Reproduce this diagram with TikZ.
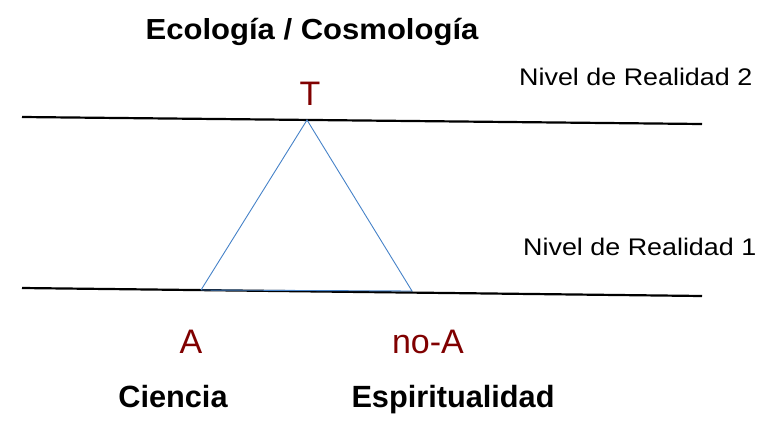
\documentclass[tikz,border=0pt]{standalone}
\usepackage{fontspec}
\setmainfont{Liberation Sans}
\definecolor{rojoletra}{RGB}{128,0,0}
\definecolor{azullado}{RGB}{70,130,200}
\tikzset{
  nivel/.style={line width=2.2pt, black},
  lado/.style={line width=0.9pt, azullado},
  titulo/.style={inner sep=0pt, anchor=base, font=\bfseries\fontsize{29}{34}\selectfont, xscale=1.07},
  capa/.style={inner sep=0pt, anchor=base west, font=\fontsize{24}{28}\selectfont, xscale=1.12},
  polo/.style={inner sep=0pt, anchor=base, text=rojoletra, font=\fontsize{34}{40}\selectfont},
  campo/.style={inner sep=0pt, anchor=base, font=\bfseries\fontsize{30.7}{36}\selectfont}
}
\begin{document}
\begin{tikzpicture}[x=1pt,y=-1pt]
    \useasboundingbox (0,0) rectangle (777,434);
    \node[titulo] (eco) at (312,39) {Ecología / Cosmología};
    \node[polo] (T) at (310,105) {T};
    \node[capa] (nivel2) at (519,85) {Nivel de Realidad 2};
    \node[capa] (nivel1) at (523,255) {Nivel de Realidad 1};
    \node[polo] (A) at (191,353) {A};
    \node[polo] (noA) at (428,353) {no-A};
    \node[campo] (ciencia) at (173,407) {Ciencia};
    \node[campo] (espiritu) at (453,407) {Espiritualidad};
    \coordinate (arribaI) at (22,117);
    \coordinate (arribaD) at (702,124);
    \coordinate (abajoI) at (22,288);
    \coordinate (abajoD) at (702,296);
    \coordinate (cima) at (307,120);
    \coordinate (baseI) at (201,290);
    \coordinate (baseD) at (412,291);
    \draw[nivel] (arribaI) -- (arribaD);
    \draw[nivel] (abajoI) -- (abajoD);
    \draw[lado] (baseI) -- (cima) -- (baseD) -- (baseI);
\end{tikzpicture}
\end{document}
